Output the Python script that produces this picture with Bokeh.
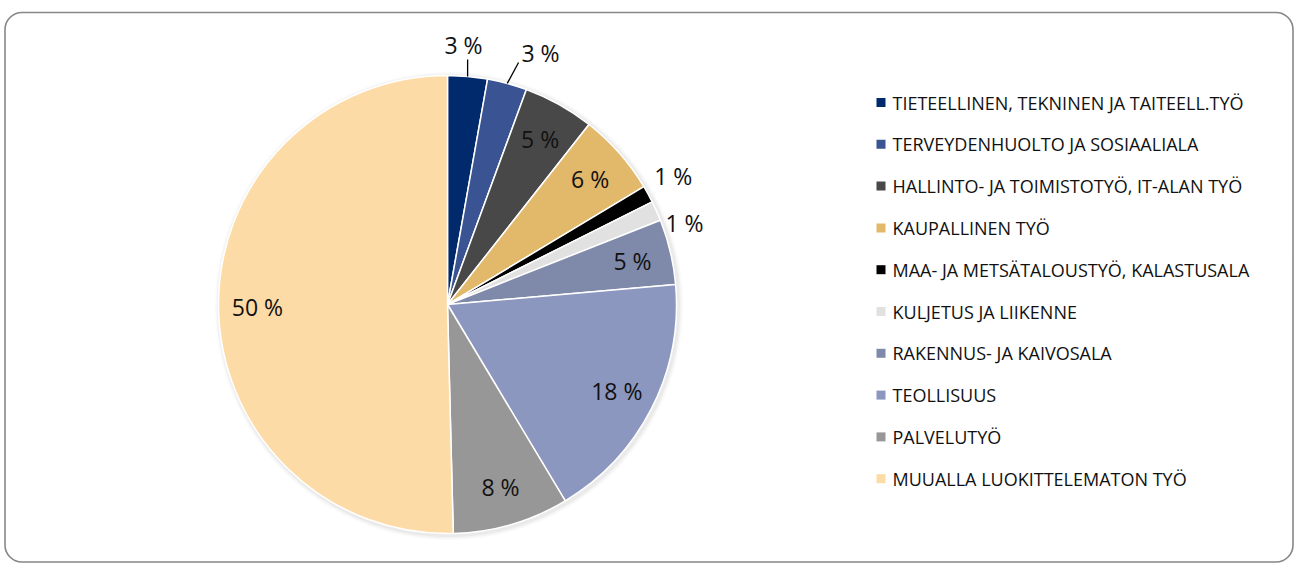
import math
from bokeh.plotting import figure
from bokeh.models import Range1d, ColumnDataSource
from bokeh.core.properties import value
from bokeh.embed import file_html
from bokeh.resources import INLINE

categories = [
    "TIETEELLINEN, TEKNINEN JA TAITEELL.TYÖ",
    "TERVEYDENHUOLTO JA SOSIAALIALA",
    "HALLINTO- JA TOIMISTOTYÖ, IT-ALAN TYÖ",
    "KAUPALLINEN TYÖ",
    "MAA- JA METSÄTALOUSTYÖ, KALASTUSALA",
    "KULJETUS JA LIIKENNE",
    "RAKENNUS- JA KAIVOSALA",
    "TEOLLISUUS",
    "PALVELUTYÖ",
    "MUUALLA LUOKITTELEMATON TYÖ",
]
shares = [2.8, 2.8, 5.0, 5.8, 1.2, 1.4, 4.6, 17.8, 8.2, 50.4]
colors = ["#012a6c", "#3a5392", "#484848", "#e2b86a", "#000000",
          "#e1e1e1", "#7f89aa", "#8c97bf", "#979797", "#fddba6"]

W, H = 1294, 563
FONT = "Open Sans"

p = figure(width=W, height=H, output_backend="svg", toolbar_location=None,
           x_range=Range1d(0, W), y_range=Range1d(0, H), min_border=0)
p.axis.visible = False
p.grid.visible = False
p.outline_line_color = None
p.background_fill_color = "white"
p.border_fill_color = "white"

# frame (page coords: x = px, y = H - py)
p.quad(left=4.5, right=1292.5, bottom=1.5, top=H - 12, fill_color=None,
       line_color="#878787", line_width=1.6, border_radius=17)

cx, cy, R = 447, H - 304, 229
total = sum(shares)
cum = [0.0]
for v in shares:
    cum.append(cum[-1] + v / total)
start = [math.pi / 2 - 2 * math.pi * c for c in cum[:-1]]
end = [math.pi / 2 - 2 * math.pi * c for c in cum[1:]]

# soft shadow
for dr, a in [(5, 0.035), (3.5, 0.05), (2, 0.08)]:
    p.circle(x=[cx + 1.5], y=[cy - 1.5], radius=R + dr, fill_color="#7a7a7a",
             fill_alpha=a, line_color=None)

src = ColumnDataSource(dict(start=start, end=end, color=colors, cat=categories))
p.wedge(x=cx, y=cy, radius=R, start_angle="start", end_angle="end",
        direction="clock", fill_color="color", line_color="white",
        line_width=1.5, source=src)

# data labels
labels = [f"{round(v)} %" for v in shares]
mids = [math.pi / 2 - math.pi * (cum[i] + cum[i + 1]) for i in range(len(shares))]
outside = {0: (0.0617, 259.5), 1: (0.355, 267.7), 4: (1.052, 260), 5: (1.241, 250.5)}
lx, ly = [], []
for i, m in enumerate(mids):
    if i in outside:
        th, r = outside[i]
        lx.append(cx + r * math.sin(th))
        ly.append(cy + r * math.cos(th))
    else:
        r = 0.83 * R
        lx.append(cx + r * math.cos(m))
        ly.append(cy + r * math.sin(m))
p.text(x=lx, y=ly, text=labels, text_align="center", text_baseline="middle",
       text_font=value(FONT), text_font_size="23px", text_color="#111111")

# leader lines for the two top slices
for i, (ox, oy) in ((0, (None, -14)), (1, (-22, -9))):
    m = mids[i]
    x0, y0 = cx + R * math.cos(m), cy + R * math.sin(m)
    x1 = x0 if ox is None else lx[i] + ox
    y1 = ly[i] + oy
    p.line(x=[x0, x1], y=[y0, y1], line_color="black", line_width=1.3)

# legend
rows_y = [H - (102 + 41.8 * i) for i in range(len(categories))]
p.scatter(x=[880.5] * len(categories), y=rows_y, marker="square", size=9,
          fill_color=colors, line_color=None)
p.text(x=[892] * len(categories), y=rows_y, text=categories, text_align="left",
       text_baseline="middle", text_font=value(FONT), text_font_size="18px",
       text_color="#111111")

open("out.html", "w").write(file_html(p, INLINE))
